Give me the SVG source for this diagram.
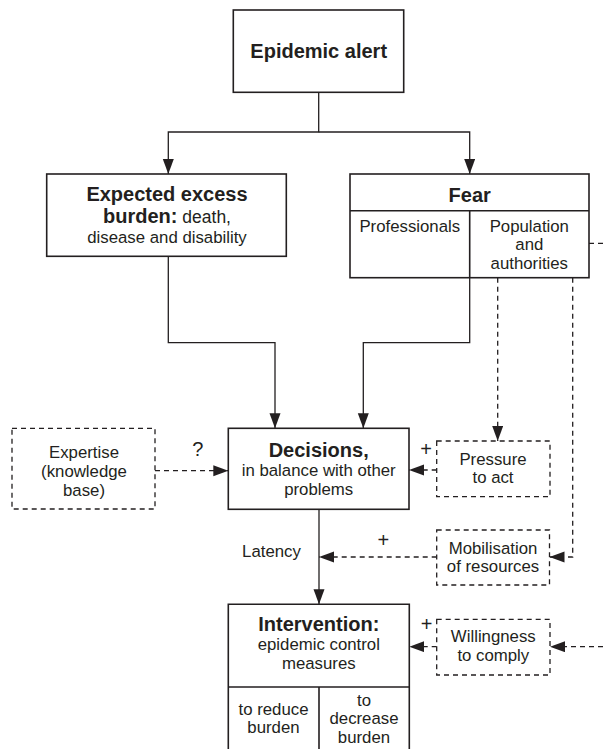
<svg xmlns="http://www.w3.org/2000/svg" width="603" height="749" viewBox="0 0 603 749">
<defs>
<marker id="ah" markerUnits="userSpaceOnUse" markerWidth="16" markerHeight="12" refX="15" refY="5.5" orient="auto">
<path d="M0,0 L15,5.5 L0,11 z" fill="#231f20"/>
</marker>
<style>
.box{fill:#fff;stroke:#231f20;stroke-width:1.6}
.dbox{fill:#fff;stroke:#231f20;stroke-width:1.3;stroke-dasharray:5,4}
.ln{fill:none;stroke:#231f20;stroke-width:1.3}
.dl{fill:none;stroke:#231f20;stroke-width:1.3;stroke-dasharray:5,4}
text{font-family:"Liberation Sans",Arial,sans-serif;fill:#231f20;text-anchor:middle}
.b{font-weight:bold;font-size:20px}
.r{font-size:16.8px}
.p{font-size:20px}
</style>
</defs>
<rect width="603" height="749" fill="#fff"/>
<g id="connectors">
<path class="ln" d="M318.7,92.3 V132 H168.3 V174" marker-end="url(#ah)"/>
<path class="ln" d="M318.7,132 H469.7 V174" marker-end="url(#ah)"/>
<path class="ln" d="M168.3,256.3 V342.7 H275 V428.3" marker-end="url(#ah)"/>
<path class="ln" d="M469.7,277.7 V342.7 H363.3 V428.3" marker-end="url(#ah)"/>
<path class="dl" d="M497.7,277.7 V441" marker-end="url(#ah)"/>
<path class="dl" d="M572.7,277.7 V557 H549.5" marker-end="url(#ah)"/>
<path class="dl" d="M589,243.3 H603"/>
<path class="dl" d="M155,470.7 H228.3" marker-end="url(#ah)"/>
<path class="dl" d="M436.7,470 H409" marker-end="url(#ah)"/>
<path class="ln" d="M319,509.3 V604.3" marker-end="url(#ah)"/>
<path class="dl" d="M436.7,557 H319" marker-end="url(#ah)"/>
<path class="dl" d="M436.7,646.7 H409.3" marker-end="url(#ah)"/>
<path class="dl" d="M603,646.7 H550" marker-end="url(#ah)"/>
<text class="p" x="197.7" y="456">?</text>
<text class="p" x="426" y="456">+</text>
<text class="p" x="383.3" y="547">+</text>
<text class="p" x="426.7" y="631">+</text>
<text class="r" x="271.5" y="557.3">Latency</text>
</g>
<g id="epidemic-alert">
<rect class="box" x="233.3" y="10" width="170.4" height="82.3"/>
<text class="b" x="318.7" y="58.3">Epidemic alert</text>
</g>
<g id="expected-burden">
<rect class="box" x="46.7" y="174" width="239.6" height="82.3"/>
<text class="b" x="167" y="201">Expected excess</text>
<text x="167" y="223.4"><tspan class="b">burden:</tspan><tspan class="r" style="font-size:17.5px"> death,</tspan></text>
<text class="r" x="167" y="242.8">disease and disability</text>
</g>
<g id="fear">
<rect class="box" x="350" y="174" width="239" height="103.7"/>
<path class="ln" d="M350,210.7 H589 M469.7,210.7 V277.7" style="stroke-width:1.6"/>
<text class="b" x="469.7" y="201.7">Fear</text>
<text class="r" x="409.8" y="231.5">Professionals</text>
<text class="r" x="529.3" y="231.5">Population</text>
<text class="r" x="529.3" y="250.3">and</text>
<text class="r" x="529.3" y="269.1">authorities</text>
</g>
<g id="expertise">
<rect class="dbox" x="12" y="428.3" width="143" height="80.7"/>
<text class="r" x="84" y="458">Expertise</text>
<text class="r" x="84" y="476.8">(knowledge</text>
<text class="r" x="84" y="495.6">base)</text>
</g>
<g id="decisions">
<rect class="box" x="228.3" y="428.3" width="180.7" height="81"/>
<text class="b" x="318.7" y="456.5">Decisions,</text>
<text class="r" x="318.7" y="476">in balance with other</text>
<text class="r" x="318.7" y="494.8">problems</text>
</g>
<g id="pressure">
<rect class="dbox" x="436.7" y="441" width="113.3" height="55.7"/>
<text class="r" x="493" y="464.5">Pressure</text>
<text class="r" x="493" y="483.3">to act</text>
</g>
<g id="mobilisation">
<rect class="dbox" x="436.7" y="530" width="112.8" height="55"/>
<text class="r" x="493" y="553.5">Mobilisation</text>
<text class="r" x="493" y="572.3">of resources</text>
</g>
<g id="intervention">
<path class="box" d="M228.3,752 V604.3 H409.3 V752"/>
<path class="ln" d="M228.3,687 H409.3 M319,687 V752" style="stroke-width:1.6"/>
<text class="b" x="318.8" y="630.5">Intervention:</text>
<text class="r" x="318.8" y="650">epidemic control</text>
<text class="r" x="318.8" y="668.8">measures</text>
<text class="r" x="273.5" y="714.5">to reduce</text>
<text class="r" x="273.5" y="733.3">burden</text>
<text class="r" x="364" y="705.5">to</text>
<text class="r" x="364" y="724.3">decrease</text>
<text class="r" x="364" y="743.1">burden</text>
</g>
<g id="willingness">
<rect class="dbox" x="436.7" y="619.3" width="113.3" height="55.7"/>
<text class="r" x="493.3" y="642">Willingness</text>
<text class="r" x="493.3" y="660.8">to comply</text>
</g>
</svg>
